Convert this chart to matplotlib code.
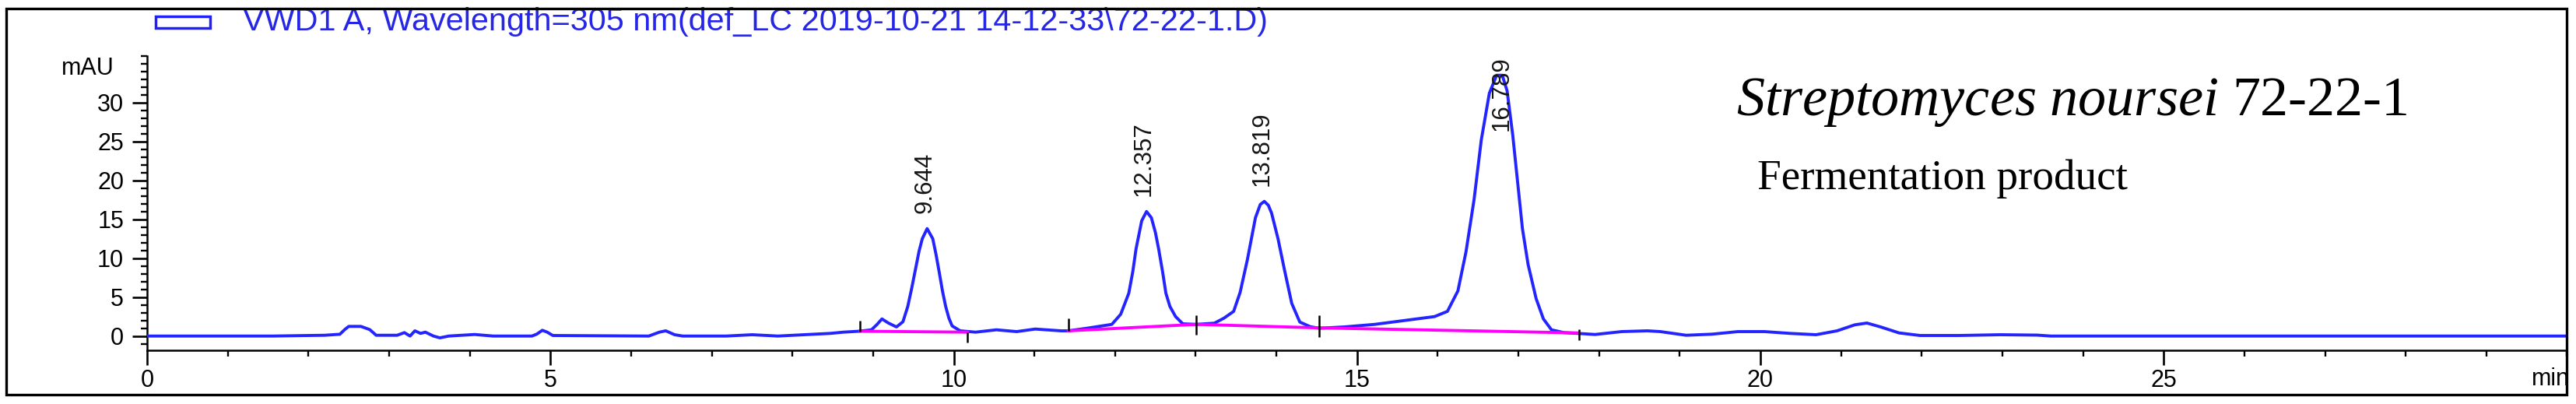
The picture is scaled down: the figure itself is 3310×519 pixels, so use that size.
import matplotlib
matplotlib.use('Agg')
import matplotlib.pyplot as plt
from matplotlib.patches import Rectangle
from matplotlib.ticker import MultipleLocator, FixedLocator, FixedFormatter

# ---------------- data ----------------
time_min = [0.00, 1.55, 2.20, 2.39, 2.45, 2.50, 2.65, 2.76, 2.84, 3.10, 3.19, 3.26,
            3.32, 3.39, 3.45, 3.55, 3.63, 3.74, 4.06, 4.29, 4.77, 4.83, 4.90, 4.96,
            5.03, 6.22, 6.35, 6.43, 6.54, 6.64, 7.18, 7.50, 7.82, 8.15, 8.47, 8.63,
            8.83, 8.98, 9.05, 9.11, 9.19, 9.29, 9.37, 9.43, 9.48, 9.53, 9.57, 9.61,
            9.67, 9.74, 9.78, 9.82, 9.86, 9.90, 9.94, 9.98, 10.08, 10.27, 10.53,
            10.78, 11.01, 11.33, 11.42, 11.65, 11.96, 12.07, 12.17, 12.22, 12.26,
            12.33, 12.39, 12.45, 12.50, 12.54, 12.59, 12.63, 12.68, 12.75, 12.84,
            13.01, 13.23, 13.35, 13.47, 13.55, 13.64, 13.74, 13.80, 13.85, 13.90,
            13.94, 14.02, 14.10, 14.19, 14.29, 14.42, 14.53, 14.84, 15.22, 15.64,
            15.96, 16.12, 16.25, 16.35, 16.45, 16.54, 16.64, 16.73, 16.80, 16.86,
            16.93, 16.99, 17.05, 17.12, 17.22, 17.31, 17.41, 17.57, 17.75, 17.95,
            18.28, 18.60, 18.76, 19.08, 19.40, 19.72, 20.05, 20.37, 20.69, 20.95,
            21.17, 21.32, 21.49, 21.72, 21.98, 22.46, 22.97, 23.43, 23.60, 30.00]
signal_mau = [0.00, 0.00, 0.10, 0.23, 0.83, 1.24, 1.24, 0.83, 0.10, 0.10, 0.44, 0.00,
              0.67, 0.34, 0.50, 0.00, -0.23, 0.00, 0.20, 0.00, 0.00, 0.24, 0.74, 0.50,
              0.07, 0.00, 0.50, 0.67, 0.17, 0.00, 0.00, 0.17, 0.00, 0.17, 0.34, 0.50,
              0.62, 0.80, 1.50, 2.20, 1.67, 1.17, 1.83, 3.80, 6.20, 8.80, 10.90, 12.50,
              13.80, 12.50, 10.50, 8.20, 5.80, 3.80, 2.30, 1.30, 0.67, 0.50, 0.80,
              0.57, 0.90, 0.67, 0.67, 1.00, 1.50, 2.80, 5.50, 8.30, 11.20,
              14.80, 16.00, 15.20, 13.30, 11.20, 8.20, 5.50, 3.80, 2.50, 1.57,
              1.50, 1.65, 2.30, 3.17, 5.60, 9.80, 15.20, 16.90, 17.30, 16.80,
              15.80, 12.50, 8.50, 4.20, 1.80, 1.20, 1.00, 1.17, 1.50, 2.07,
              2.50, 3.17, 5.80, 10.80, 17.50, 25.20, 31.20, 33.50, 33.50, 31.50,
              25.80, 19.80, 13.80, 9.20, 4.80, 2.20, 0.80, 0.43, 0.33, 0.20,
              0.57, 0.67, 0.57, 0.10, 0.24, 0.57, 0.57, 0.34, 0.17, 0.67,
              1.44, 1.67, 1.17, 0.40, 0.07, 0.07, 0.17, 0.12, 0.00, 0.00]

peak_rt = [9.644, 12.357, 13.819, 16.789]
peak_apex = [13.8, 16.0, 17.3, 33.5]
peak_labels = ['9.644', '12.357', '13.819', '16.789']

baseline_t = [[8.84, 10.17], [11.42, 13.01, 14.53, 17.75]]
baseline_y = [[0.62, 0.50], [0.67, 1.50, 1.05, 0.40]]

event_t = [8.84, 10.17, 11.42, 13.01, 14.53, 17.75]
event_lo = [0.60, -0.80, 0.67, 0.20, -0.10, -0.50]
event_hi = [2.00, 0.50, 2.30, 2.70, 2.70, 0.90]

x_ticks = [0, 5, 10, 15, 20, 25]
x_tick_labels = ['0', '5', '10', '15', '20', '25']
x_unit = 'min'
y_ticks = [0, 5, 10, 15, 20, 25, 30]
y_tick_labels = ['0', '5', '10', '15', '20', '25', '30']
y_unit = 'mAU'

legend_text = 'VWD1 A, Wavelength=305 nm(def_LC 2019-10-21 14-12-33\\72-22-1.D)'
title_text = r'$\mathit{Streptomyces\ noursei}$ 72-22-1'
subtitle_text = 'Fermentation product'

# ---------------- figure ----------------
W, H = 3310, 519
plt.rcParams['font.family'] = ['Liberation Sans', 'DejaVu Sans']
plt.rcParams['mathtext.fontset'] = 'custom'
plt.rcParams['mathtext.it'] = 'Liberation Serif:italic'
plt.rcParams['mathtext.rm'] = 'Liberation Serif'

fig = plt.figure(figsize=(W / 100, H / 100), dpi=100)
fig.patch.set_facecolor('white')

px0, px1 = 189.0, 3298.5      # x=0 and x=30
py_axis, py_top = 450.0, 71.7  # x-axis line, top of y axis
ax = fig.add_axes([px0 / W, 1 - py_axis / H, (px1 - px0) / W, (py_axis - py_top) / H])
ax.set_xlim(0, 30)
ax.set_ylim(-1.83, 36.0)
ax.set_facecolor('white')

for s in ['top', 'right']:
    ax.spines[s].set_visible(False)
for s in ['left', 'bottom']:
    ax.spines[s].set_linewidth(1.8)
    ax.spines[s].set_color('black')

ax.xaxis.set_major_locator(FixedLocator(x_ticks))
ax.xaxis.set_major_formatter(FixedFormatter(x_tick_labels))
ax.xaxis.set_minor_locator(MultipleLocator(1))
ax.yaxis.set_major_locator(FixedLocator(y_ticks))
ax.yaxis.set_major_formatter(FixedFormatter(y_tick_labels))
ax.yaxis.set_minor_locator(MultipleLocator(1))
ax.tick_params(axis='both', which='major', length=13.5, width=1.9, labelsize=22, color='black')
ax.tick_params(axis='both', which='minor', length=6, width=1.7, color='black')
ax.tick_params(axis='y', which='major', pad=8)
ax.tick_params(axis='x', which='major', pad=4)

# axis unit labels (ChemStation style)
ax.text(-0.0135, 34.4, y_unit, transform=ax.get_yaxis_transform(), ha='right', va='center',
        fontsize=22)
fig.text(3302 / W, 1 - 487 / H, x_unit, ha='right', va='center', fontsize=22)

# chromatogram trace
ax.plot(time_min, signal_mau, color='#2424ff', lw=2.8, solid_joinstyle='round', zorder=3)
# integration baselines
for bt, by in zip(baseline_t, baseline_y):
    ax.plot(bt, by, color='#ff00ff', lw=2.8, zorder=4)
# integration event markers
ax.vlines(event_t, event_lo, event_hi, color='black', lw=1.8, zorder=5)

# retention time labels
y_top = 36.0
for rt, apex, lab in zip(peak_rt, peak_apex, peak_labels):
    yb = min(apex + 2.0, y_top - 9.6)
    ax.text(rt, yb, lab, rotation=90, ha='center', va='bottom', fontsize=22.5,
            color='#151515', zorder=6)

# legend line
fig.add_artist(Rectangle((200 / W, 1 - 36 / H), 70 / W, 15 / H, transform=fig.transFigure,
                         fill=False, ec='#2020ff', lw=2.5))
leg = fig.text(312 / W, 1 - 28 / H, legend_text, ha='left', va='center', fontsize=22,
               color='#2626e6')

# annotations
tt = fig.text(2231 / W, 1 - 148 / H, title_text, ha='left', va='baseline', fontsize=56,
              family=['Liberation Serif', 'DejaVu Serif'])
st = fig.text(2258 / W, 1 - 243 / H, subtitle_text, ha='left', va='baseline', fontsize=39,
              family=['Liberation Serif', 'DejaVu Serif'])

# fit text widths to reference
fig.canvas.draw()
r = fig.canvas.get_renderer()
for artist, target in [(leg, 1313), (tt, 862), (st, 476)]:
    w = artist.get_window_extent(r).width
    artist.set_fontsize(artist.get_fontsize() * target / w)

# outer frame
fig.add_artist(Rectangle((3300 / W, 0), 10 / W, 1, transform=fig.transFigure,
                         fc='white', ec='none', zorder=20))
fig.add_artist(Rectangle((8 / W, 1 - 507 / H), 3290 / W, (507 - 11) / H,
                         transform=fig.transFigure, fill=False, ec='black', lw=2.4, zorder=21))

fig.savefig('out.png', dpi=100, facecolor='white')
